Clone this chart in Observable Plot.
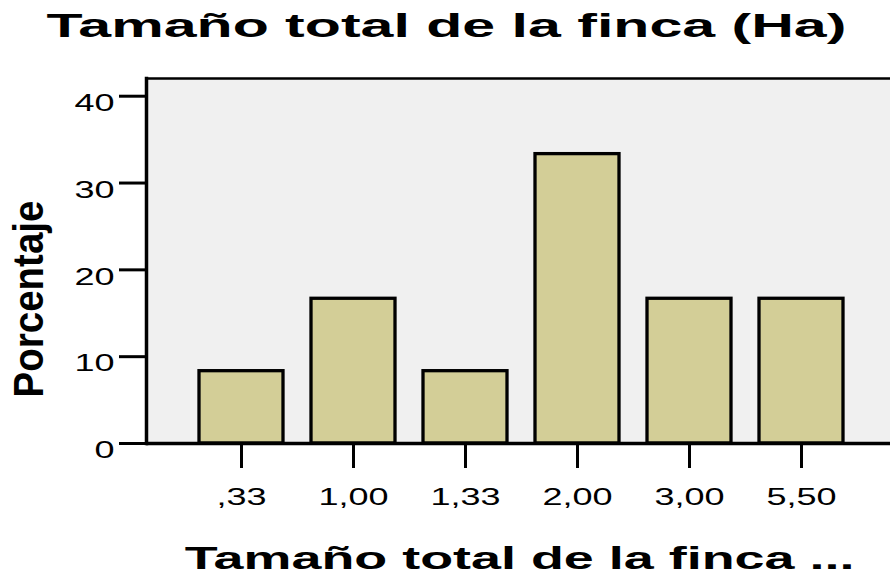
<!DOCTYPE html>
<html><head><meta charset="utf-8">
<script src="https://cdn.jsdelivr.net/npm/d3@7"></script>
<script src="https://cdn.jsdelivr.net/npm/@observablehq/plot@0.6"></script>
<style>body{margin:0;background:#fff}</style>
</head><body><div id="chart"></div>
<script>
const categories = [",33", "1,00", "1,33", "2,00", "3,00", "5,50"];
const percentages = [8.33, 16.67, 8.33, 33.33, 16.67, 16.67];
const yTicks = [0, 10, 20, 30, 40];
const titleText = "Tamaño total de la finca (Ha)";
const xLabel = "Tamaño total de la finca ...";
const yLabel = "Porcentaje";

const data = categories.map((c, i) => ({category: c, percent: percentages[i]}));
const font = "'Liberation Sans', Arial, Helvetica, sans-serif";

const chart = Plot.plot({
  width: 890,
  height: 575,
  marginTop: 78,
  marginBottom: 132,
  marginLeft: 146,
  marginRight: 0,
  style: {fontFamily: font, color: "black", background: "white", overflow: "visible"},
  x: {domain: categories, range: [183.7, 859.3], paddingInner: 0.25, paddingOuter: 0.125, label: null},
  y: {domain: [0, 42.04], label: null},
  marks: [
    Plot.frame({fill: "#f0f0f0", stroke: "none"}),
    Plot.barY(data, {x: "category", y: "percent", fill: "#d3ce97", stroke: "black", strokeWidth: 3.3}),
    Plot.frame({anchor: "left", stroke: "black", strokeWidth: 3.5}),
    Plot.frame({anchor: "top", stroke: "black", strokeWidth: 2.7}),
    Plot.ruleY([0], {stroke: "black", strokeWidth: 3.3}),
    Plot.axisY(yTicks, {tickSize: 27, fill: "none", stroke: "black", strokeWidth: 3, label: null}),
    Plot.axisY(yTicks, {tickSize: 0, tickPadding: 32, dy: 7, fill: "black", fontSize: 24, label: null, ariaLabel: "ytl"}),
    Plot.axisX({tickSize: 25, tickPadding: 19, stroke: "black", strokeWidth: 3, fill: "black", fontSize: 24, label: null}),
    Plot.text([titleText], {frameAnchor: "top", lineAnchor: "bottom", dx: -72, dy: -42, fontSize: 33, fontWeight: "bold", fill: "black"}),
    Plot.text([xLabel], {frameAnchor: "bottom", lineAnchor: "bottom", dx: 1, dy: 125, fontSize: 32, fontWeight: "bold", fill: "black"}),
    Plot.text([yLabel], {frameAnchor: "left", textAnchor: "middle", rotate: -90, dx: -117, dy: 38, fontSize: 38.5, fontWeight: "bold", fill: "black"})
  ]
});
document.getElementById("chart").appendChild(chart);

const svg = chart;
function stretchEls(els, align, scaleOrWidth, isWidth) {
  els.forEach(el => {
    const r = el.getBoundingClientRect();
    const s = isWidth ? scaleOrWidth / r.width : scaleOrWidth;
    const parent = el.parentNode;
    const m = parent.getScreenCTM().inverse();
    const pt = svg.createSVGPoint();
    pt.x = align === "end" ? r.right : align === "start" ? r.left : (r.left + r.right) / 2;
    pt.y = (r.top + r.bottom) / 2;
    const p = pt.matrixTransform(m);
    const g = document.createElementNS("http://www.w3.org/2000/svg", "g");
    g.setAttribute("transform", `translate(${p.x},0) scale(${s},1) translate(${-p.x},0)`);
    parent.insertBefore(g, el);
    g.appendChild(el);
  });
}
const allText = Array.from(svg.querySelectorAll("text"));
stretchEls(Array.from(svg.querySelectorAll('g[aria-label="ytl tick label"] text')), "end", 1.5, false);
stretchEls(Array.from(svg.querySelectorAll('g[aria-label="x-axis tick label"] text')), "middle", 1.5, false);
stretchEls(allText.filter(t => t.textContent === titleText), "middle", 800, true);
stretchEls(allText.filter(t => t.textContent === xLabel), "middle", 670, true);
stretchEls(allText.filter(t => t.textContent === yLabel), "middle", 1.08, false);
</script></body></html>
